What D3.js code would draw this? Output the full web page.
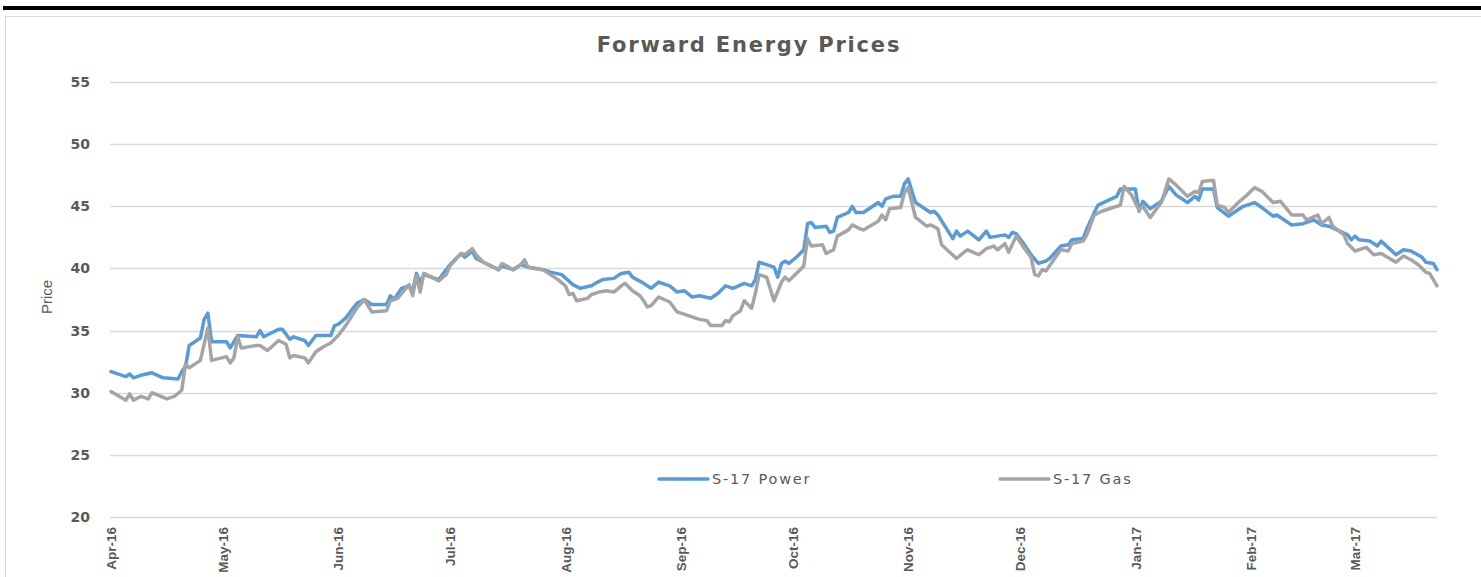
<!DOCTYPE html>
<html>
<head>
<meta charset="utf-8">
<script src="https://cdn.jsdelivr.net/npm/d3@7"></script>
<style>
  body { margin: 0; background: #fff; }
  svg { display: block; }
</style>
</head>
<body>
<svg id="chart" width="1481" height="577"></svg>
<script>
// S-17 Power
var powerSeries = [
	["2016-04-01", 31.7], ["2016-04-05", 31.3], ["2016-04-06", 31.5], ["2016-04-07", 31.2], ["2016-04-09", 31.4],
	["2016-04-12", 31.6], ["2016-04-15", 31.2], ["2016-04-19", 31.1], ["2016-04-20", 31.7], ["2016-04-21", 32.1],
	["2016-04-22", 33.8], ["2016-04-25", 34.4], ["2016-04-26", 35.9], ["2016-04-27", 36.4], ["2016-04-28", 34.1],
	["2016-05-02", 34.1], ["2016-05-03", 33.6], ["2016-05-05", 34.6], ["2016-05-10", 34.5], ["2016-05-11", 35.0],
	["2016-05-12", 34.5], ["2016-05-14", 34.8], ["2016-05-16", 35.1], ["2016-05-17", 35.1], ["2016-05-19", 34.3],
	["2016-05-20", 34.5], ["2016-05-23", 34.2], ["2016-05-24", 33.8], ["2016-05-26", 34.6], ["2016-05-30", 34.6],
	["2016-05-31", 35.4], ["2016-06-01", 35.5], ["2016-06-03", 36.0], ["2016-06-06", 37.2], ["2016-06-08", 37.5],
	["2016-06-10", 37.1], ["2016-06-14", 37.1], ["2016-06-15", 37.8], ["2016-06-16", 37.5], ["2016-06-18", 38.4],
	["2016-06-20", 38.6], ["2016-06-21", 38.2], ["2016-06-22", 39.6], ["2016-06-23", 38.9], ["2016-06-24", 39.5],
	["2016-06-26", 39.3], ["2016-06-28", 39.1], ["2016-06-29", 39.5], ["2016-07-01", 40.3], ["2016-07-04", 41.2],
	["2016-07-05", 40.9], ["2016-07-07", 41.4], ["2016-07-08", 40.8], ["2016-07-10", 40.5], ["2016-07-14", 39.9],
	["2016-07-15", 40.2], ["2016-07-18", 39.9], ["2016-07-20", 40.3], ["2016-07-22", 40.1], ["2016-07-26", 39.9],
	["2016-07-28", 39.7], ["2016-07-31", 39.5], ["2016-08-03", 38.7], ["2016-08-05", 38.4], ["2016-08-08", 38.6],
	["2016-08-09", 38.8], ["2016-08-11", 39.1], ["2016-08-14", 39.2], ["2016-08-16", 39.6], ["2016-08-18", 39.7],
	["2016-08-19", 39.3], ["2016-08-22", 38.8], ["2016-08-24", 38.4], ["2016-08-26", 38.9], ["2016-08-29", 38.6],
	["2016-08-31", 38.1], ["2016-09-02", 38.2], ["2016-09-04", 37.7], ["2016-09-06", 37.8], ["2016-09-09", 37.6],
	["2016-09-11", 38.0], ["2016-09-13", 38.6], ["2016-09-15", 38.4], ["2016-09-18", 38.8], ["2016-09-20", 38.6],
	["2016-09-21", 39.1], ["2016-09-22", 40.5], ["2016-09-24", 40.3], ["2016-09-26", 40.1], ["2016-09-27", 39.3],
	["2016-09-28", 40.4], ["2016-09-29", 40.6], ["2016-09-30", 40.4], ["2016-10-02", 40.9], ["2016-10-04", 41.5],
	["2016-10-05", 43.6], ["2016-10-06", 43.7], ["2016-10-07", 43.3], ["2016-10-10", 43.4], ["2016-10-11", 42.9],
	["2016-10-12", 43.0], ["2016-10-13", 44.1], ["2016-10-16", 44.5], ["2016-10-17", 45.0], ["2016-10-18", 44.5],
	["2016-10-20", 44.5], ["2016-10-24", 45.3], ["2016-10-25", 45.0], ["2016-10-26", 45.6], ["2016-10-28", 45.8],
	["2016-10-30", 45.8], ["2016-10-31", 46.8], ["2016-11-01", 47.2], ["2016-11-03", 45.3], ["2016-11-05", 44.9],
	["2016-11-07", 44.5], ["2016-11-08", 44.6], ["2016-11-09", 44.3], ["2016-11-13", 42.4], ["2016-11-14", 43.0],
	["2016-11-15", 42.6], ["2016-11-17", 43.0], ["2016-11-20", 42.3], ["2016-11-22", 43.0], ["2016-11-23", 42.5],
	["2016-11-27", 42.7], ["2016-11-28", 42.5], ["2016-11-29", 42.9], ["2016-11-30", 42.8], ["2016-12-02", 42.0],
	["2016-12-04", 41.1], ["2016-12-06", 40.4], ["2016-12-08", 40.6], ["2016-12-09", 40.8], ["2016-12-12", 41.8],
	["2016-12-14", 41.9], ["2016-12-15", 42.3], ["2016-12-18", 42.4], ["2016-12-19", 43.2], ["2016-12-21", 44.5],
	["2016-12-22", 45.1], ["2016-12-27", 45.8], ["2016-12-28", 46.4], ["2017-01-01", 46.4], ["2017-01-02", 44.6],
	["2017-01-03", 45.4], ["2017-01-05", 44.8], ["2017-01-08", 45.4], ["2017-01-10", 46.6], ["2017-01-12", 45.9],
	["2017-01-15", 45.3], ["2017-01-17", 45.8], ["2017-01-18", 45.5], ["2017-01-19", 46.4], ["2017-01-22", 46.4],
	["2017-01-23", 44.9], ["2017-01-26", 44.2], ["2017-01-30", 45.0], ["2017-02-02", 45.3], ["2017-02-04", 44.9],
	["2017-02-07", 44.2], ["2017-02-08", 44.3], ["2017-02-12", 43.5], ["2017-02-15", 43.6], ["2017-02-18", 43.9],
	["2017-02-20", 43.5], ["2017-02-22", 43.4], ["2017-02-27", 42.7], ["2017-02-28", 42.3], ["2017-03-01", 42.6],
	["2017-03-02", 42.3], ["2017-03-05", 42.2], ["2017-03-07", 41.8], ["2017-03-08", 42.2], ["2017-03-12", 41.1],
	["2017-03-14", 41.5], ["2017-03-16", 41.4], ["2017-03-19", 40.9], ["2017-03-20", 40.5], ["2017-03-22", 40.4],
	["2017-03-23", 39.9]
];

// S-17 Gas
var gasSeries = [
	["2016-04-01", 30.1], ["2016-04-05", 29.4], ["2016-04-06", 29.9], ["2016-04-07", 29.4], ["2016-04-09", 29.7],
	["2016-04-11", 29.5], ["2016-04-12", 30.0], ["2016-04-16", 29.5], ["2016-04-18", 29.7], ["2016-04-20", 30.2],
	["2016-04-21", 32.3], ["2016-04-22", 32.0], ["2016-04-25", 32.6], ["2016-04-27", 35.2], ["2016-04-28", 32.6],
	["2016-05-02", 32.9], ["2016-05-03", 32.4], ["2016-05-04", 32.8], ["2016-05-05", 34.5], ["2016-05-06", 33.6],
	["2016-05-10", 33.8], ["2016-05-11", 33.8], ["2016-05-13", 33.4], ["2016-05-16", 34.2], ["2016-05-18", 33.9],
	["2016-05-19", 32.8], ["2016-05-20", 33.0], ["2016-05-23", 32.8], ["2016-05-24", 32.4], ["2016-05-26", 33.3],
	["2016-05-28", 33.7], ["2016-05-30", 34.0], ["2016-06-01", 34.6], ["2016-06-03", 35.4], ["2016-06-06", 36.8],
	["2016-06-08", 37.5], ["2016-06-10", 36.5], ["2016-06-14", 36.6], ["2016-06-15", 37.4], ["2016-06-17", 37.6],
	["2016-06-20", 38.7], ["2016-06-21", 37.8], ["2016-06-22", 39.4], ["2016-06-23", 38.1], ["2016-06-24", 39.6],
	["2016-06-26", 39.3], ["2016-06-28", 39.0], ["2016-06-30", 39.5], ["2016-07-01", 40.2], ["2016-07-04", 41.2],
	["2016-07-05", 41.1], ["2016-07-07", 41.6], ["2016-07-08", 41.1], ["2016-07-10", 40.5], ["2016-07-14", 39.9],
	["2016-07-15", 40.4], ["2016-07-18", 39.9], ["2016-07-20", 40.3], ["2016-07-21", 40.7], ["2016-07-22", 40.1],
	["2016-07-26", 39.9], ["2016-07-28", 39.5], ["2016-07-30", 39.1], ["2016-08-01", 38.6], ["2016-08-02", 37.9],
	["2016-08-03", 38.0], ["2016-08-04", 37.4], ["2016-08-07", 37.6], ["2016-08-08", 37.9], ["2016-08-10", 38.1],
	["2016-08-12", 38.2], ["2016-08-14", 38.1], ["2016-08-16", 38.6], ["2016-08-17", 38.8], ["2016-08-19", 38.2],
	["2016-08-21", 37.8], ["2016-08-22", 37.4], ["2016-08-23", 36.9], ["2016-08-24", 37.0], ["2016-08-26", 37.7],
	["2016-08-29", 37.3], ["2016-08-31", 36.5], ["2016-09-03", 36.2], ["2016-09-06", 35.9], ["2016-09-08", 35.8],
	["2016-09-09", 35.4], ["2016-09-12", 35.4], ["2016-09-13", 35.8], ["2016-09-14", 35.7], ["2016-09-15", 36.2],
	["2016-09-17", 36.6], ["2016-09-18", 37.4], ["2016-09-20", 36.8], ["2016-09-21", 38.0], ["2016-09-22", 39.5],
	["2016-09-24", 39.3], ["2016-09-26", 37.4], ["2016-09-28", 38.9], ["2016-09-29", 39.3], ["2016-09-30", 39.0],
	["2016-10-02", 39.6], ["2016-10-04", 40.2], ["2016-10-05", 42.4], ["2016-10-06", 41.8], ["2016-10-09", 41.9],
	["2016-10-10", 41.2], ["2016-10-12", 41.5], ["2016-10-13", 42.6], ["2016-10-16", 43.1], ["2016-10-17", 43.5],
	["2016-10-19", 43.2], ["2016-10-20", 43.1], ["2016-10-24", 43.8], ["2016-10-25", 44.3], ["2016-10-26", 43.9],
	["2016-10-27", 44.8], ["2016-10-30", 44.9], ["2016-10-31", 46.1], ["2016-11-01", 46.5], ["2016-11-03", 44.1],
	["2016-11-06", 43.4], ["2016-11-07", 43.5], ["2016-11-09", 43.2], ["2016-11-10", 41.9], ["2016-11-14", 40.8],
	["2016-11-16", 41.3], ["2016-11-17", 41.5], ["2016-11-20", 41.1], ["2016-11-22", 41.6], ["2016-11-24", 41.8],
	["2016-11-25", 41.5], ["2016-11-27", 42.0], ["2016-11-28", 41.3], ["2016-11-30", 42.6], ["2016-12-02", 41.7],
	["2016-12-04", 40.9], ["2016-12-05", 39.5], ["2016-12-06", 39.4], ["2016-12-07", 39.9], ["2016-12-08", 39.8],
	["2016-12-12", 41.5], ["2016-12-14", 41.4], ["2016-12-15", 42.0], ["2016-12-18", 42.2], ["2016-12-19", 42.7],
	["2016-12-21", 44.3], ["2016-12-23", 44.6], ["2016-12-28", 45.1], ["2016-12-29", 46.6], ["2016-12-31", 45.9],
	["2017-01-02", 44.7], ["2017-01-03", 45.0], ["2017-01-05", 44.1], ["2017-01-08", 45.3], ["2017-01-10", 47.2],
	["2017-01-12", 46.7], ["2017-01-15", 45.8], ["2017-01-17", 46.2], ["2017-01-18", 46.1], ["2017-01-19", 47.0],
	["2017-01-22", 47.1], ["2017-01-23", 45.1], ["2017-01-25", 44.9], ["2017-01-26", 44.5], ["2017-01-29", 45.4],
	["2017-01-31", 45.9], ["2017-02-02", 46.5], ["2017-02-04", 46.2], ["2017-02-07", 45.3], ["2017-02-09", 45.4],
	["2017-02-12", 44.3], ["2017-02-15", 44.3], ["2017-02-16", 43.9], ["2017-02-19", 44.3], ["2017-02-20", 43.6],
	["2017-02-22", 44.1], ["2017-02-23", 43.4], ["2017-02-26", 42.7], ["2017-02-27", 42.0], ["2017-03-01", 41.4],
	["2017-03-04", 41.7], ["2017-03-06", 41.1], ["2017-03-08", 41.2], ["2017-03-12", 40.5], ["2017-03-14", 41.0],
	["2017-03-16", 40.7], ["2017-03-18", 40.3], ["2017-03-20", 39.7], ["2017-03-21", 39.6], ["2017-03-23", 38.6]
];

var seriesNames = ["S-17 Power", "S-17 Gas"];
var yTicks = [20, 25, 30, 35, 40, 45, 50, 55];
var monthTicks = ["2016-04-01", "2016-05-01", "2016-06-01", "2016-07-01", "2016-08-01", "2016-09-01",
	"2016-10-01", "2016-11-01", "2016-12-01", "2017-01-01", "2017-02-01", "2017-03-01"];
var dateRange = ["2016-04-01", "2017-03-23"];

var params = {
	margin: { left: 111, top: 82, right: 44 },
	width: 1326,
	height: 435,
	colours: ["#5b9bd5", "#a5a5a5"],
	text: "#595959",
	grid: "#d9d9d9"
};

var parse = d3.timeParse("%Y-%m-%d");
var svg = d3.select("#chart");

// frame: heavy rule on top, light border round the chart
svg.append("rect")
	.attr("x", 3).attr("y", 6)
	.attr("width", 1478).attr("height", 4)
	.attr("fill", "#000");
svg.append("rect")
	.attr("x", 5.5).attr("y", 16.5)
	.attr("width", 1500).attr("height", 600)
	.attr("fill", "none")
	.attr("stroke", params.grid);

var x = d3.scaleTime()
	.domain(dateRange.map(parse))
	.range([0, params.width]);

var y = d3.scaleLinear()
	.domain([20, 55])
	.range([params.height, 0]);

var g = svg.append("g")
	.attr("transform", "translate(" + params.margin.left + "," + params.margin.top + ")");

g.append("g").selectAll("line")
	.data(yTicks)
	.enter().append("line")
	.attr("x1", -1).attr("x2", params.width)
	.attr("y1", function(d) { return Math.round(y(d)) + 0.5; })
	.attr("y2", function(d) { return Math.round(y(d)) + 0.5; })
	.attr("stroke", params.grid)
	.attr("stroke-width", 1.3);

var yAxis = g.append("g")
	.call(d3.axisLeft(y).tickValues(yTicks).tickSize(0).tickPadding(21));
yAxis.select(".domain").remove();
yAxis.selectAll("text")
	.attr("fill", params.text)
	.style("font-family", "DejaVu Sans")
	.style("font-weight", "bold")
	.style("font-size", "14px");

var xAxis = g.append("g")
	.attr("transform", "translate(0," + params.height + ")")
	.call(d3.axisBottom(x)
		.tickValues(monthTicks.map(parse))
		.tickFormat(d3.timeFormat("%b-%y"))
		.tickSize(0));
xAxis.select(".domain").remove();
xAxis.selectAll("text")
	.attr("fill", params.text)
	.attr("transform", "rotate(-90)")
	.attr("text-anchor", "end")
	.attr("x", -10)
	.attr("y", 0)
	.attr("dy", "0.35em")
	.style("font-family", "Liberation Sans")
	.style("font-weight", "bold")
	.style("font-size", "13.5px");

var line = d3.line()
	.x(function(d) { return x(parse(d[0])); })
	.y(function(d) { return y(d[1]); });

g.append("g").selectAll(".series")
	.data([powerSeries, gasSeries])
	.enter().append("path")
	.attr("class", "series")
	.attr("d", line)
	.attr("fill", "none")
	.attr("stroke", function(d, i) { return params.colours[i]; })
	.attr("stroke-width", 3.5)
	.attr("stroke-linejoin", "round")
	.attr("stroke-linecap", "round");

// title and axis title
svg.append("text")
	.attr("x", 749).attr("y", 52)
	.attr("text-anchor", "middle")
	.attr("fill", params.text)
	.style("font-family", "DejaVu Sans")
	.style("font-weight", "bold")
	.style("font-size", "21px")
	.style("letter-spacing", "1.8px")
	.text("Forward Energy Prices");

svg.append("text")
	.attr("transform", "translate(52,297) rotate(-90)")
	.attr("text-anchor", "middle")
	.attr("fill", params.text)
	.style("font-family", "Liberation Sans")
	.style("font-size", "15px")
	.text("Price");

// legend
var legend = svg.append("g").selectAll(".legend")
	.data(seriesNames)
	.enter().append("g")
	.attr("class", "legend")
	.attr("transform", function(d, i) { return "translate(" + (659 + i * 341) + ",479)"; });

legend.append("line")
	.attr("x1", 0).attr("x2", 49)
	.attr("stroke", function(d, i) { return params.colours[i]; })
	.attr("stroke-width", 3.5)
	.attr("stroke-linecap", "round");

legend.append("text")
	.attr("x", 53)
	.attr("dy", "0.36em")
	.attr("fill", params.text)
	.style("font-family", "DejaVu Sans")
	.style("font-size", "14.5px")
	.style("letter-spacing", "1.8px")
	.text(function(d) { return d; });
</script>
</body>
</html>
